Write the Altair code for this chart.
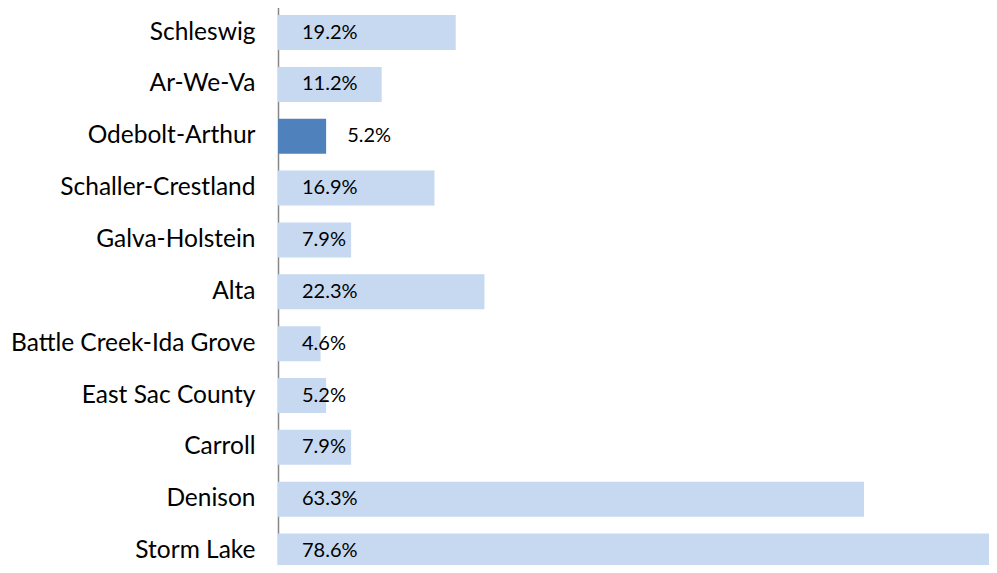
import altair as alt
import pandas as pd

districts = ["Schleswig", "Ar-We-Va", "Odebolt-Arthur", "Schaller-Crestland",
             "Galva-Holstein", "Alta", "Battle Creek-Ida Grove", "East Sac County",
             "Carroll", "Denison", "Storm Lake"]
values = [19.2, 11.2, 5.2, 16.9, 7.9, 22.3, 4.6, 5.2, 7.9, 63.3, 78.6]
highlight = [False, False, True, False, False, False, False, False, False, False, False]

df = pd.DataFrame({"district": districts, "value": values, "hl": highlight})
df["label"] = [f"{v:.1f}%" for v in values]

FONT = "Lato"

y = alt.Y("district:N", sort=districts, title=None,
          scale=alt.Scale(range=[-1.4, 569], paddingInner=0.325, paddingOuter=0.1625),
          axis=alt.Axis(labelFont=FONT, labelFontSize=24.5, labelColor="#000000",
                        labelPadding=23, ticks=False, domain=True,
                        domainColor="#868686", domainWidth=1.5, labelLimit=400))
xs = alt.Scale(domain=[0, 100], range=[0, 925.7])

base = alt.Chart(df)

bars = base.mark_bar().encode(
    x=alt.X("value:Q", scale=xs, axis=None),
    y=y,
    color=alt.Color("hl:N", scale=alt.Scale(domain=[False, True], range=["#c6d9f0", "#4f81bd"]), legend=None),
)

labels_in = base.transform_filter("!datum.hl").mark_text(
    align="left", baseline="middle", font=FONT, fontSize=20, color="#000000"
).encode(x=alt.value(24), y=y, text="label:N")

labels_out = base.transform_filter("datum.hl").mark_text(
    align="left", baseline="middle", font=FONT, fontSize=20, color="#000000", dx=21
).encode(x=alt.X("value:Q", scale=xs), y=y, text="label:N")

chart = alt.layer(bars, labels_in, labels_out).properties(
    width=711, height=557,
    autosize=alt.AutoSizeParams(type="none"),
    padding={"left": 270, "top": 0, "right": 0, "bottom": 0},
).configure_view(stroke=None)

chart.save("out.html", embed_options={"renderer": "svg", "actions": False})
